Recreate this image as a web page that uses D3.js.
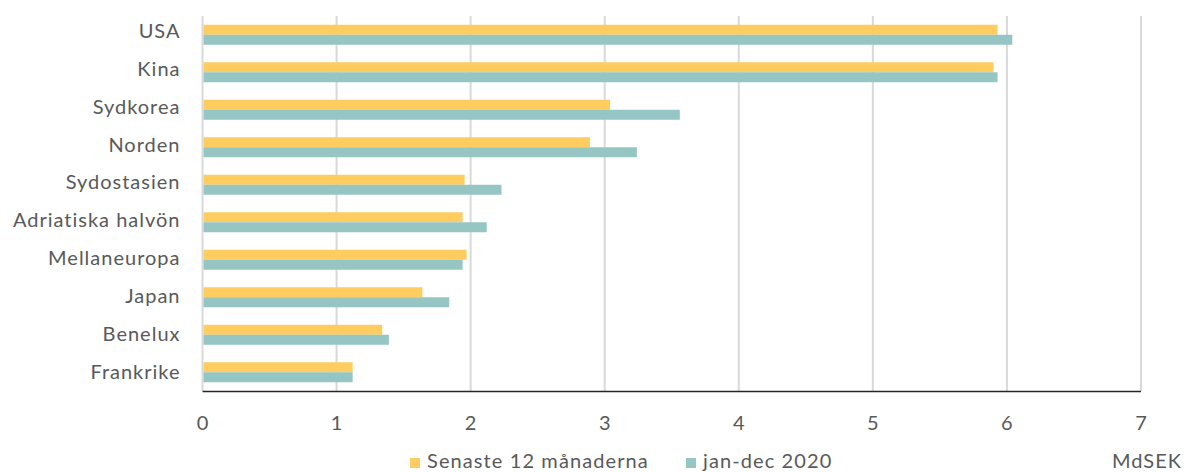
<!DOCTYPE html>
<html>
<head>
<meta charset="utf-8">
<script src="https://cdn.jsdelivr.net/npm/d3@7"></script>
<style>
  body { margin: 0; background: #fff; }
  svg text { font-family: Lato, "Open Sans", sans-serif; fill: #595959; }
</style>
</head>
<body>
<div id="chart"></div>
<script>
// data
var categories = ["USA", "Kina", "Sydkorea", "Norden", "Sydostasien", "Adriatiska halvön",
                  "Mellaneuropa", "Japan", "Benelux", "Frankrike"];
var senaste12 = [5.93, 5.90, 3.04, 2.89, 1.955, 1.94, 1.97, 1.64, 1.34, 1.12];
var jandec2020 = [6.04, 5.93, 3.56, 3.24, 2.23, 2.12, 1.94, 1.84, 1.39, 1.12];
var seriesNames = ["Senaste 12 månaderna", "jan-dec 2020"];
var ticks = [0, 1, 2, 3, 4, 5, 6, 7];

var colors = ["#FECC5F", "#95C6C4"];

var W = 1186, H = 472;
var margin = {top: 16, right: 45, bottom: 81, left: 202.5},
    width = 1141 - margin.left,
    height = H - margin.top - margin.bottom;

var svg = d3.select("#chart")
  .append("svg")
    .attr("width", W)
    .attr("height", H)
  .append("g")
    .attr("transform", "translate(" + margin.left + "," + margin.top + ")");

var x = d3.scaleLinear()
  .domain([0, 7])
  .range([0, width]);

var y = d3.scaleBand()
  .domain(categories)
  .range([0, height]);

var y1 = d3.scaleBand()
  .domain(seriesNames)
  .range([0, 20])
  .padding(0);

// gridlines
svg.append("g")
  .selectAll("line")
  .data(ticks)
  .enter()
  .append("line")
    .attr("x1", function(d) { return x(d); })
    .attr("x2", function(d) { return x(d); })
    .attr("y1", 0)
    .attr("y2", height)
    .attr("stroke", "#D9D9D9")
    .attr("stroke-width", 2);

// bars
var rows = categories.map(function(c, i) {
  return {cat: c, vals: [senaste12[i], jandec2020[i]]};
});

var groups = svg.selectAll("g.row")
  .data(rows)
  .enter()
  .append("g")
    .attr("class", "row")
    .attr("transform", function(d) {
      return "translate(0," + (y(d.cat) + y.bandwidth() / 2 - 10) + ")";
    });

groups.selectAll("rect")
  .data(function(d) { return d.vals.map(function(v, j) { return {v: v, s: seriesNames[j], j: j}; }); })
  .enter()
  .append("rect")
    .attr("x", x(0) + 1)
    .attr("y", function(d) { return y1(d.s); })
    .attr("width", function(d) { return x(d.v) - x(0) - 1; })
    .attr("height", y1.bandwidth())
    .attr("fill", function(d) { return colors[d.j]; });

// category labels
svg.append("g")
  .selectAll("text")
  .data(categories)
  .enter()
  .append("text")
    .attr("x", -22)
    .attr("y", function(d, i) { return y(d) + y.bandwidth() / 2 - 2 + i * 0.4; })
    .attr("text-anchor", "end")
    .attr("dominant-baseline", "middle")
    .style("font-size", "20px")
    .style("letter-spacing", "1px")
    .text(function(d) { return d; });

// bottom axis line
svg.append("line")
  .attr("x1", 0)
  .attr("x2", width)
  .attr("y1", height + 0.5)
  .attr("y2", height + 0.5)
  .attr("stroke", "#262626")
  .attr("stroke-width", 1.5);

// tick labels
svg.append("g")
  .selectAll("text")
  .data(ticks)
  .enter()
  .append("text")
    .attr("x", function(d) { return x(d); })
    .attr("y", height + 34)
    .attr("text-anchor", "middle")
    .attr("dominant-baseline", "middle")
    .style("font-size", "20px")
    .text(function(d) { return d; });

// legend
var legendX = [410 - margin.left, 686 - margin.left];
var legend = svg.append("g")
  .selectAll("g")
  .data(seriesNames)
  .enter()
  .append("g")
    .attr("transform", function(d, i) { return "translate(" + legendX[i] + "," + (463 - margin.top) + ")"; });
legend.append("rect")
  .attr("x", 0)
  .attr("y", -5)
  .attr("width", 10)
  .attr("height", 10)
  .attr("fill", function(d, i) { return colors[i]; });
legend.append("text")
  .attr("x", 17)
  .attr("y", 0)
  .attr("dominant-baseline", "middle")
  .style("font-size", "20px")
  .style("letter-spacing", "1.1px")
  .text(function(d) { return d; });

// unit
svg.append("text")
  .attr("x", 1182 - margin.left)
  .attr("y", 463 - margin.top)
  .attr("text-anchor", "end")
  .attr("dominant-baseline", "middle")
  .style("font-size", "20px")
  .style("letter-spacing", "1px")
  .text("MdSEK");
</script>
</body>
</html>
